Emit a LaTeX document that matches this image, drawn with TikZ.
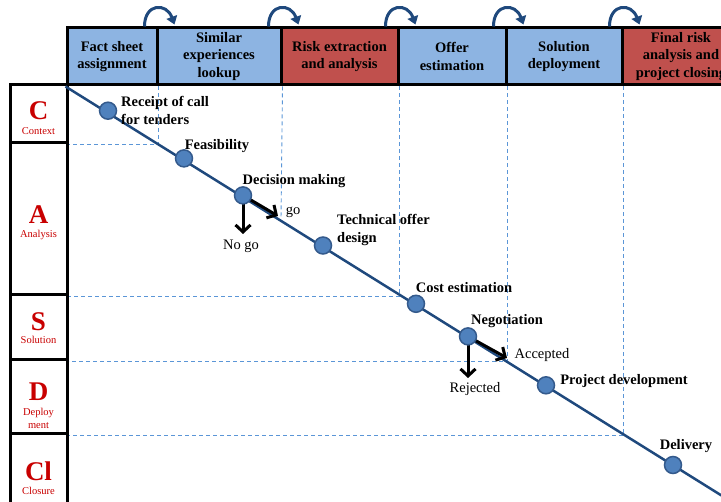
\documentclass[tikz,border=0pt]{standalone}
\usepackage{fontspec}
\setmainfont{Liberation Serif}
\usetikzlibrary{arrows.meta,calc}
\definecolor{hdrblue}{RGB}{141,180,226}
\definecolor{hdrred}{RGB}{192,80,77}
\definecolor{linkblue}{RGB}{31,73,125}
\definecolor{dotblue}{RGB}{79,129,189}
\definecolor{dotedge}{RGB}{52,90,140}
\definecolor{guideblue}{RGB}{91,150,215}
\definecolor{phasered}{RGB}{200,0,0}
\tikzset{
	phase/.style={draw=black, line width=3pt, minimum height=57pt, inner sep=0pt, align=center, font=\fontsize{14.5}{17.5}\selectfont\bfseries},
	stage/.style={draw=black, line width=3pt, minimum width=57pt, inner sep=0pt},
	letter/.style={text=phasered, inner sep=0pt, font=\fontsize{27}{30}\selectfont\bfseries},
	word/.style={text=phasered, inner sep=0pt, align=center, font=\fontsize{10.5}{13}\selectfont},
	milestone/.style={circle, draw=dotedge, line width=1.5pt, fill=dotblue, minimum size=17pt, inner sep=0pt},
	lbl/.style={inner sep=0pt, align=left, font=\fontsize{14.5}{18}\selectfont\bfseries},
	outcome/.style={inner sep=0pt, font=\fontsize{14.5}{17}\selectfont},
	guide/.style={guideblue, line width=0.9pt, dash pattern=on 4pt off 3pt},
	decision/.style={black, line width=3pt, -{Straight Barb[length=7pt,width=15pt,line width=3pt]}},
	loopback/.style={linkblue, line width=3pt, -{Triangle[length=8pt,width=11pt]}},
}
\begin{document}
\begin{tikzpicture}[x=1pt,y=1pt]
		\useasboundingbox (0,0) rectangle (721,-502);
		% phases
		\node[phase, fill=hdrblue, minimum width=90pt] (h1) at (112,-56.5) {Fact sheet\\assignment};
		\node[phase, fill=hdrblue, minimum width=124pt] (h2) at (219,-56.5) {Similar\\experiences\\lookup};
		\node[phase, fill=hdrred, minimum width=117pt] (h3) at (339.5,-56.5) {Risk extraction\\and analysis};
		\node[phase, fill=hdrblue, minimum width=108pt] (h4) at (452,-56.5) {Offer\\estimation};
		\node[phase, fill=hdrblue, minimum width=116pt] (h5) at (564,-56.5) {Solution\\deployment};
		\node[phase, fill=hdrred, minimum width=118pt] (h6) at (681,-56.5) {Final risk\\analysis and\\project closing};
		\foreach \h in {h1,h2,h3,h4,h5}
			\draw[loopback] ($(\h.north east)+(-14,0)$) to[out=90,in=110,looseness=2] ($(\h.north east)+(16,2)$);
		% stages
		\node[stage, minimum height=58pt] (s1) at (38.5,-114) {};
		\node[stage, minimum height=152pt] (s2) at (38.5,-219) {};
		\node[stage, minimum height=65pt] (s3) at (38.5,-327.5) {};
		\node[stage, minimum height=74pt] (s4) at (38.5,-397) {};
		\node[stage, minimum height=91pt] (s5) at (38.5,-479.5) {};
		\node[letter] (l1) at (38.5,-111) {C};
		\node[word] (w1) at (38.5,-131) {Context};
		\node[letter] (l2) at (38.5,-215) {A};
		\node[word] (w2) at (38.5,-235) {Analysis};
		\node[letter] (l3) at (38.5,-322) {S};
		\node[word] (w3) at (38.5,-340) {Solution};
		\node[letter] (l4) at (38.5,-392) {D};
		\node[word] (w4) at (38.5,-418) {Deploy\\ment};
		\node[letter] (l5) at (38.5,-471.5) {Cl};
		\node[word] (w5) at (38.5,-491) {Closure};
		% guide lines
		\coordinate (k2) at (281,-219.2);
		\draw[guide] (h1.south east) |- (s1.south east);
		\draw[guide] (h2.south east) -- (k2);
		\draw[guide] (h3.south east) |- (s2.south east);
		\draw[guide] (h4.south east) |- (s3.south east);
		\draw[guide] (h5.south east) |- (s4.south east);
		% process line
		\coordinate (tail) at (760,-519.5);
		\draw[linkblue, line width=2.5pt] (h1.south west) -- (tail);
		% decisions
		\coordinate (nogo) at (243,-234);
		\coordinate (go) at (278,-216);
		\coordinate (rej) at (468,-378);
		\coordinate (acc) at (507,-358);
		\draw[decision] (243,-195.4) -- (nogo);
		\draw[decision] (243,-195.4) -- (go);
		\draw[decision] (468,-336.4) -- (rej);
		\draw[decision] (468,-336.4) -- (acc);
		% milestones
		\node[milestone] (n1) at (108,-110.7) {};
		\node[milestone] (n2) at (184,-158.4) {};
		\node[milestone] (n3) at (243,-195.4) {};
		\node[milestone] (n4) at (323,-245.5) {};
		\node[milestone] (n5) at (416,-303.8) {};
		\node[milestone] (n6) at (468,-336.4) {};
		\node[milestone] (n7) at (546,-385.3) {};
		\node[milestone] (n8) at (673,-465) {};
		% labels
		\node[lbl, anchor=west] (t1) at (121,-110) {Receipt of call\\for tenders};
		\node[lbl] (t2) at (217,-146) {Feasibility};
		\node[lbl] (t3) at (294,-181) {Decision making};
		\node[lbl, anchor=west] (t4) at (337,-230) {Technical offer\\design};
		\node[lbl] (t5) at (464,-288) {Cost estimation};
		\node[lbl] (t6) at (507,-321) {Negotiation};
		\node[lbl] (t7) at (624,-381) {Project development};
		\node[lbl] (t8) at (686,-446) {Delivery};
		\node[outcome] (o1) at (241,-246) {No go};
		\node[outcome] (o2) at (293,-212) {go};
		\node[outcome] (o3) at (542,-355) {Accepted};
		\node[outcome] (o4) at (475,-389) {Rejected};
	\end{tikzpicture}
\end{document}
